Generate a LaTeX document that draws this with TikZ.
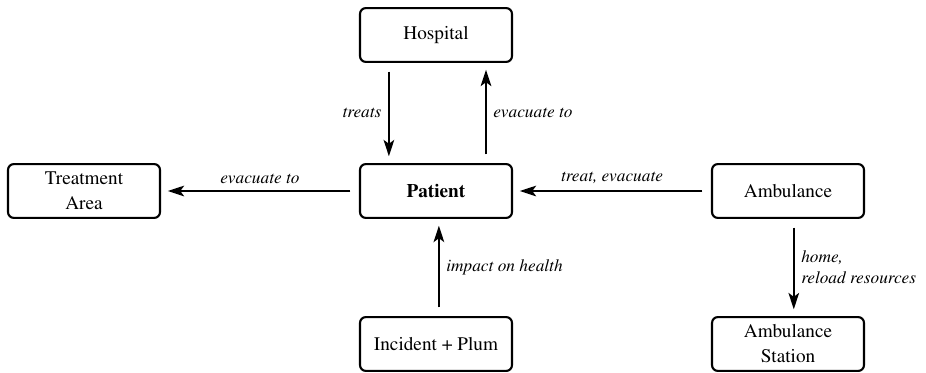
\documentclass[tikz,border=0pt]{standalone}
\usepackage[T1]{fontenc}
\usepackage{times}
\usetikzlibrary{arrows.meta}

\begin{document}
\begin{tikzpicture}[x=0.52pt, y=-0.52pt]
\useasboundingbox (0,0) rectangle (926,372);

\begin{scope}[every node/.style={rectangle,rounded corners=3pt,line width=1.1pt,draw,
        minimum width=79pt,minimum height=28pt,align=center,font=\fontsize{10}{13}\selectfont}]
    \node (hosp) at (436, 35) {Hospital};
    \node (pat) at (436, 191) {\textbf{Patient}};
    \node (treat) at (84, 191) {Treatment\\Area};
    \node (amb) at (788, 191) {Ambulance};
    \node (inc) at (436, 344) {Incident + Plum};
    \node (stat) at (788, 344) {Ambulance\\Station};
\end{scope}

\begin{scope}[>={Stealth[length=8.5pt,width=5.5pt,inset=2pt]},
              every node/.style={font=\small\itshape,align=left},
              every edge/.style={draw,line width=1.1pt,shorten <=4.5pt,shorten >=3.5pt}]

    \path [->] ([xshift=-24.5pt]hosp.south) edge node[left] {treats} ([xshift=-24.5pt]pat.north);
    \path [->] ([xshift=26pt]pat.north) edge node[right] {evacuate to} ([xshift=26pt]hosp.south);

    \path [->] (pat) edge node[above] {evacuate to} (treat);
    \path [->] (amb) edge node[above] {treat, evacuate} (pat);

    \path [->] ([xshift=1.5pt]inc.north) edge node[right] {impact on health} ([xshift=1.5pt]pat.south);
    \path [->] ([xshift=3pt]amb.south) edge node[right] {home,\\reload resources} ([xshift=3pt]stat.north);
\end{scope}
\end{tikzpicture}
\end{document}
